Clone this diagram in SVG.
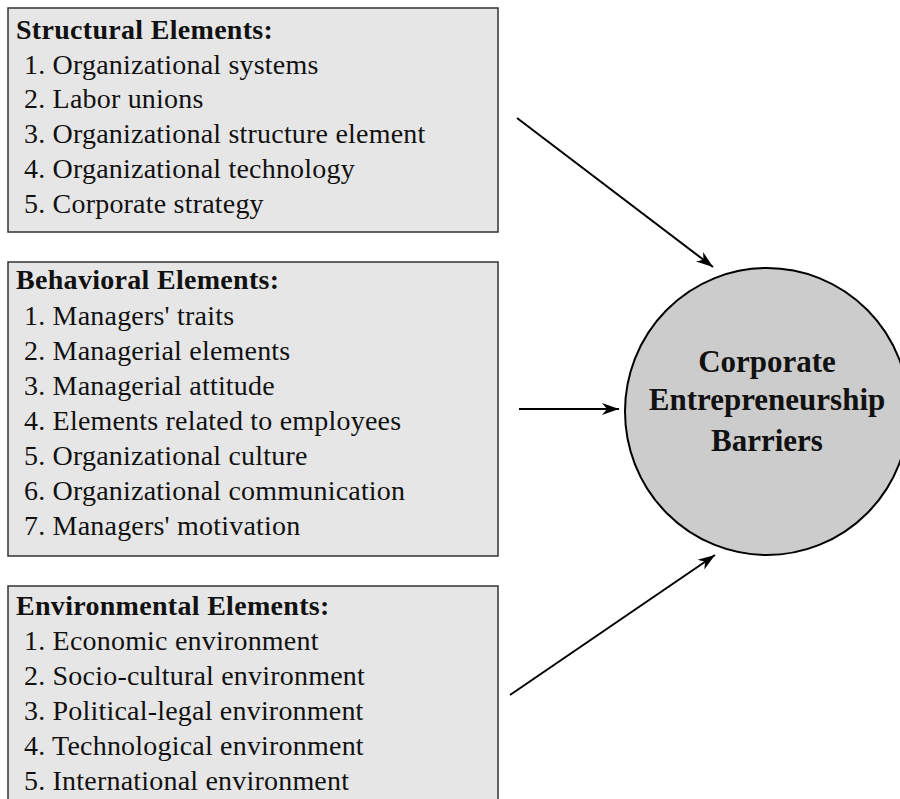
<svg xmlns="http://www.w3.org/2000/svg" width="900" height="799" viewBox="0 0 900 799">
<style>
.box{fill:#e6e6e6;stroke:#333;stroke-width:1.5}
.t{font-family:"Liberation Serif","Times New Roman",serif;font-size:28px;letter-spacing:0.2px;fill:#111}
.h{font-weight:bold;letter-spacing:0.3px}
.c{font-family:"Liberation Serif","Times New Roman",serif;font-size:31px;font-weight:bold;fill:#111;text-anchor:middle}
.conn{stroke:#000;stroke-width:2;fill:none;marker-end:url(#ah)}
</style>
<defs>
<marker id="ah" markerWidth="18" markerHeight="14" refX="17" refY="7" orient="auto" markerUnits="userSpaceOnUse">
<path d="M0,1 L17,7 L0,13 L5,7 Z" fill="#000"/>
</marker>
</defs>
<rect width="900" height="799" fill="#fff"/>
<g id="structural">
<rect class="box" x="8" y="8" width="490" height="224"/>
<text class="t h" x="16" y="39">Structural Elements:</text>
<text class="t" x="24" y="74">1. Organizational systems</text>
<text class="t" x="24" y="108">2. Labor unions</text>
<text class="t" x="24" y="143">3. Organizational structure element</text>
<text class="t" x="24" y="178">4. Organizational technology</text>
<text class="t" x="24" y="213">5. Corporate strategy</text>
</g>
<g id="behavioral">
<rect class="box" x="8" y="262" width="490" height="294"/>
<text class="t h" x="16" y="289">Behavioral Elements:</text>
<text class="t" x="24" y="325">1. Managers' traits</text>
<text class="t" x="24" y="360">2. Managerial elements</text>
<text class="t" x="24" y="395">3. Managerial attitude</text>
<text class="t" x="24" y="430">4. Elements related to employees</text>
<text class="t" x="24" y="465">5. Organizational culture</text>
<text class="t" x="24" y="500">6. Organizational communication</text>
<text class="t" x="24" y="535">7. Managers' motivation</text>
</g>
<g id="environmental">
<rect class="box" x="8" y="586" width="490" height="230"/>
<text class="t h" x="16" y="615">Environmental Elements:</text>
<text class="t" x="24" y="650">1. Economic environment</text>
<text class="t" x="24" y="685">2. Socio-cultural environment</text>
<text class="t" x="24" y="720">3. Political-legal environment</text>
<text class="t" x="24" y="755">4. Technological environment</text>
<text class="t" x="24" y="790">5. International environment</text>
</g>
<g id="barriers">
<ellipse cx="767" cy="411.5" rx="142" ry="143.5" fill="#cccccc" stroke="#000" stroke-width="2"/>
<text class="c" x="767" y="372">Corporate</text>
<text class="c" x="767" y="410">Entrepreneurship</text>
<text class="c" x="767" y="451">Barriers</text>
</g>
<g id="connectors">
<line class="conn" x1="517" y1="118" x2="713" y2="267"/>
<line class="conn" x1="519" y1="409" x2="619" y2="409"/>
<line class="conn" x1="510" y1="695" x2="715" y2="555"/>
</g>
</svg>
